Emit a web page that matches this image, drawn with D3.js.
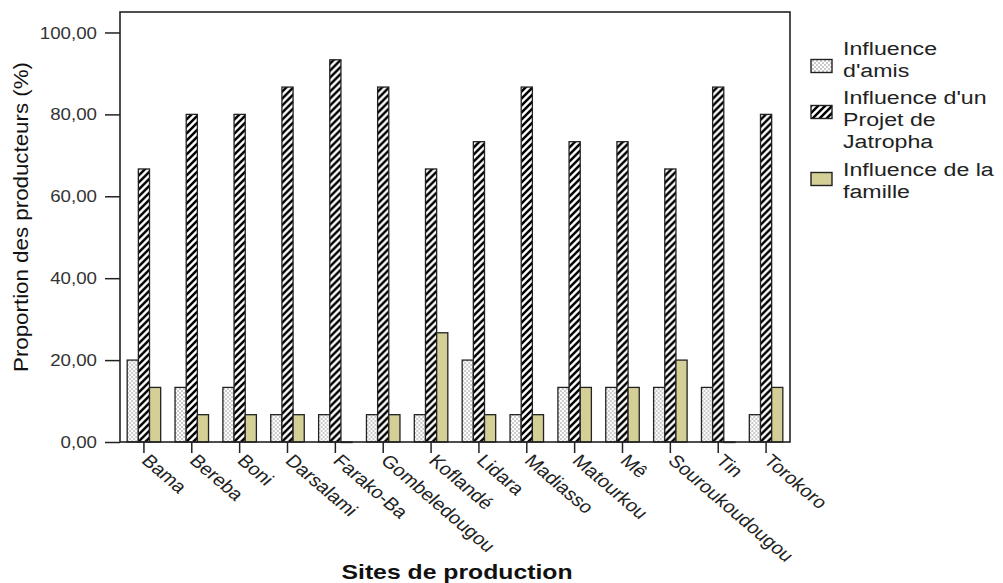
<!DOCTYPE html>
<html><head><meta charset="utf-8">
<script src="https://cdn.jsdelivr.net/npm/d3@7/dist/d3.min.js"></script>
<style>body{margin:0;background:#fff}</style>
</head><body>
<svg id="c" width="1003" height="583"></svg>
<script>
const categories = ["Bama","Bereba","Boni","Darsalami","Farako-Ba","Gombeledougou","Koflandé","Lidara","Madiasso","Matourkou","Mê","Souroukoudougou","Tin","Torokoro"];
const amis =    [20.00,13.33,13.33,6.67,6.67,6.67,6.67,20.00,6.67,13.33,13.33,13.33,13.33,6.67];
const projet =  [66.67,80.00,80.00,86.67,93.33,86.67,66.67,73.33,86.67,73.33,73.33,66.67,86.67,80.00];
const famille = [13.33,6.67,6.67,6.67,0,6.67,26.67,6.67,6.67,13.33,13.33,20.00,0,13.33];
const seriesNames = [["Influence","d'amis"],["Influence d'un","Projet de","Jatropha"],["Influence de la","famille"]];
const yTicks = [0,20,40,60,80,100];

const FONT = "Liberation Sans, Arial, sans-serif";
const SX = 1.17; // horizontal stretch of the reference picture
const svg = d3.select("#c");
const m = {l:120, r:213, t:12, b:141};
const W = 1003 - m.l - m.r, H = 583 - m.t - m.b;
const defs = svg.append("defs");
const dots = defs.append("pattern").attr("id","dots").attr("patternUnits","userSpaceOnUse").attr("width",4).attr("height",4);
dots.append("rect").attr("width",4).attr("height",4).attr("fill","#fff");
dots.append("circle").attr("cx",1).attr("cy",1).attr("r",0.8).attr("fill","#888");
dots.append("circle").attr("cx",3).attr("cy",3).attr("r",0.8).attr("fill","#888");
const hatch = defs.append("pattern").attr("id","hatch").attr("patternUnits","userSpaceOnUse").attr("width",7).attr("height",7);
hatch.append("rect").attr("width",7).attr("height",7).attr("fill","#fff");
hatch.append("path").attr("d","M-1,8 L8,-1 M-4,4 L4,-4 M3,11 L11,3").attr("stroke","#000").attr("stroke-width",2.5);
const fills = ["url(#dots)","url(#hatch)","#d3cf97"];

const g = svg.append("g").attr("transform",`translate(${m.l},${m.t})`);
const x = d3.scaleBand().domain(categories).range([0,W]).paddingInner(0.3).paddingOuter(0.15);
const xs = d3.scaleBand().domain([0,1,2]).range([0,x.bandwidth()]);
const y = d3.scaleLinear().domain([0,105]).range([H,0]);

const data = categories.map((c,i)=>({c, v:[amis[i],projet[i],famille[i]]}));
const grp = g.selectAll(".grp").data(data).enter().append("g").attr("transform",d=>`translate(${x(d.c)},0)`);
grp.selectAll("rect").data(d=>d.v.map((v,k)=>({v,k}))).enter().append("rect")
  .attr("x",d=>xs(d.k)).attr("width",xs.bandwidth())
  .attr("y",d=>y(d.v)).attr("height",d=>Math.max(H-y(d.v),0.5))
  .attr("fill",d=>fills[d.k]).attr("stroke","#222").attr("stroke-width",1.3);

// frame
g.append("rect").attr("width",W).attr("height",H).attr("fill","none").attr("stroke","#222").attr("stroke-width",1.6);

const ya = g.append("g").call(d3.axisLeft(y).tickValues(yTicks).tickSize(15).tickPadding(0).tickFormat(d=>d3.format(".2f")(d).replace(".",",")));
ya.select(".domain").remove();
ya.selectAll("line").attr("stroke","#222").attr("stroke-width",1.5);
ya.selectAll("text").attr("font-family",FONT).attr("font-size",16).attr("fill","#333")
  .attr("x",0).attr("dy","0.35em").attr("transform",`translate(-23,0) scale(${SX},1)`);

const xa = g.append("g").attr("transform",`translate(0,${H})`).call(d3.axisBottom(x).tickSize(11));
xa.select(".domain").remove();
xa.selectAll("line").attr("stroke","#222").attr("stroke-width",1.5);
xa.selectAll("text").attr("font-family",FONT).attr("font-size",17.5).attr("fill","#222")
  .attr("text-anchor","start").attr("dy","0.3em").attr("y",0).attr("x",0)
  .attr("transform",`translate(1,16) scale(${SX},1) rotate(45)`);

svg.append("text").attr("transform",`translate(28,${217}) rotate(-90)`).attr("text-anchor","middle")
  .attr("font-family",FONT).attr("font-size",20).attr("fill","#111")
  .attr("textLength",310).attr("lengthAdjust","spacingAndGlyphs")
  .text("Proportion des producteurs (%)");
svg.append("text").attr("x",457).attr("y",579).attr("text-anchor","middle")
  .attr("font-family",FONT).attr("font-size",21).attr("font-weight","bold").attr("fill","#111")
  .attr("textLength",231).attr("lengthAdjust","spacingAndGlyphs")
  .text("Sites de production");

// legend
const leg = svg.append("g");
const legBase = [[55,77],[104,126,148],[176,198]];
const swatchMid = [66,112,179];
seriesNames.forEach((lines,k)=>{
  leg.append("rect").attr("x",811).attr("y",swatchMid[k]-6.5).attr("width",21).attr("height",13)
    .attr("fill",fills[k]).attr("stroke","#222").attr("stroke-width",1.4);
  lines.forEach((t,j)=>{
    leg.append("text").attr("transform",`translate(843,${legBase[k][j]}) scale(1.22,1)`)
      .attr("font-family",FONT).attr("font-size",19).attr("fill","#222").text(t);
  });
});
</script>
</body></html>
